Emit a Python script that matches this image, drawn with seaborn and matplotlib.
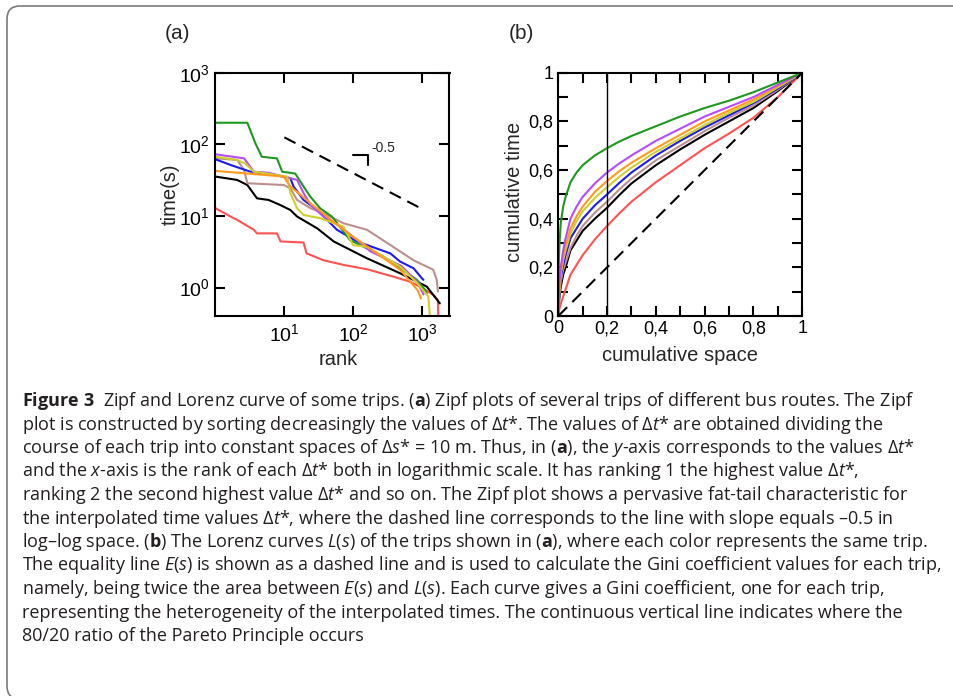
import matplotlib
matplotlib.use('Agg')
import matplotlib.pyplot as plt
import matplotlib.patches as mpatches
from matplotlib.transforms import IdentityTransform
from matplotlib.ticker import FixedLocator, FixedFormatter, NullLocator, MultipleLocator
import seaborn as sns

# ---- panel (a): Zipf plots, rank vs time(s) ----
green_rank = [1, 2.9, 3.8, 4.7, 7.8, 9.3, 14.4, 19, 23.8, 33, 49, 90, 275, 480, 840, 1100, 1170]
green_time = [200, 200, 103, 67, 63.6, 41.5, 39, 25.7, 18.6, 12.8, 9.8, 4.6, 2.7, 1.86, 1.28, 0.93, 0.83]

purple_rank = [1, 2.6, 3.6, 5.9, 15.3, 19, 24, 37, 65, 113, 177, 500, 850, 1000, 1050]
purple_time = [72.5, 63.6, 41.5, 40, 31.8, 20.8, 14.3, 9.8, 7.1, 4.6, 3.2, 2.0, 1.2, 0.88, 0.8]

blue_rank = [1, 1.65, 3.2, 6.3, 12.2, 13.6, 19, 30, 58, 113, 345, 480, 750, 990, 1045]
blue_time = [61.7, 51.5, 41.5, 38.5, 33.6, 25.7, 16.7, 12.1, 6.4, 4.4, 3.0, 2.3, 1.86, 1.35, 1.28]

yellow_rank = [1, 2.06, 2.7, 3.6, 11, 12.2, 15.3, 19, 33, 72, 100, 158, 480, 850, 1230, 1310]
yellow_time = [67, 60.5, 54, 41.5, 35.4, 20.8, 12.8, 10.3, 9.3, 7.1, 3.9, 3.7, 1.96, 1.15, 0.75, 0.35]

orange_rank = [1, 2.6, 5.0, 9.8, 12.2, 16, 24, 41.5, 47, 92, 220, 480, 850, 940, 960]
orange_time = [42.5, 39.4, 37.4, 35.4, 25.7, 20.8, 15, 9.8, 8.8, 5.4, 3.0, 1.77, 0.93, 0.75, 0.7]

brown_rank = [1, 2.06, 2.6, 2.9, 9.8, 12.2, 15.3, 24, 37, 72, 158, 380, 750, 1450, 1630, 1700]
brown_time = [63.6, 60.5, 44, 28.6, 27, 24.3, 16.7, 12.8, 10.9, 7.9, 6.4, 3.7, 2.4, 1.77, 1.28, 0.88]

black_rank = [1, 2.06, 2.9, 4.0, 5.9, 8.7, 12.2, 15.3, 30, 52, 158, 480, 1170, 1450, 1810]
black_time = [35.4, 31.8, 27, 17.6, 16.7, 14.2, 12.1, 9.8, 6.7, 4.4, 2.56, 1.58, 1.03, 0.79, 0.6]

red_rank = [1, 1.65, 2.06, 3.6, 4.0, 7.8, 8.8, 19, 21, 37, 72, 158, 380, 660, 930, 1450, 1700, 1720]
red_time = [12.8, 9.8, 8.8, 6.4, 5.7, 5.7, 4.4, 4.25, 3.0, 2.4, 2.07, 1.8, 1.42, 1.21, 1.03, 0.79, 0.67, 0.35]

slope_rank = [10, 1000]
slope_time = [125, 12.5]
slope_mark_rank = [100, 162, 162]
slope_mark_time = [71, 71, 51.5]

zipf_ticks_x = [10, 100, 1000]
zipf_labels_x = ['1', '2', '3']
zipf_ticks_y = [1, 10, 100, 1000]
zipf_labels_y = ['0', '1', '2', '3']

# ---- panel (b): Lorenz curves ----
lorenz_x = [0, 0.002, 0.005, 0.01, 0.02, 0.03, 0.05, 0.075, 0.1, 0.15, 0.2, 0.25, 0.3, 0.4, 0.5, 0.6, 0.7, 0.8, 0.9, 1.0]
green_lorenz = [0, .22, .30, .38, .45, .49, .55, .59, .62, .66, .69, .717, .74, .78, .82, .855, .885, .92, .96, 1]
purple_lorenz = [0, .10, .15, .20, .27, .32, .40, .45, .49, .545, .59, .627, .66, .72, .77, .82, .86, .90, .95, 1]
orange_lorenz = [0, .08, .12, .18, .24, .29, .36, .41, .45, .51, .555, .595, .63, .69, .745, .80, .845, .89, .945, 1]
yellow_lorenz = [0, .07, .11, .17, .23, .27, .34, .39, .43, .485, .53, .572, .61, .675, .73, .785, .835, .88, .94, 1]
blue_lorenz = [0, .07, .11, .16, .21, .25, .32, .36, .40, .455, .50, .547, .59, .66, .72, .775, .825, .875, .935, 1]
brown_lorenz = [0, .06, .10, .14, .19, .22, .28, .33, .37, .425, .47, .52, .565, .64, .70, .76, .815, .865, .93, 1]
black_lorenz = [0, .05, .08, .12, .17, .20, .27, .31, .35, .40, .445, .497, .545, .62, .685, .745, .80, .855, .925, 1]
red_lorenz = [0, .015, .03, .05, .08, .11, .17, .21, .25, .315, .37, .422, .47, .55, .62, .69, .75, .815, .90, 1]

equality_x = [0, 1]
equality_y = [0, 1]
pareto_x = 0.2
lorenz_ticks = [0, 0.2, 0.4, 0.6, 0.8, 1.0]
lorenz_labels = ['0', '0,2', '0,4', '0,6', '0,8', '1']

colors = {
    'green': '#1e981e', 'purple': '#b84cf8', 'blue': '#1c1cf0', 'yellow': '#cfcf2a',
    'orange': '#ff9a1c', 'brown': '#bc8f8f', 'black': '#000000', 'red': '#ff5252',
}

caption_lines = [
    r"$\mathbf{Figure\ 3}$  Zipf and Lorenz curve of some trips. ($\mathbf{a}$) Zipf plots of several trips of different bus routes. The Zipf",
    r"plot is constructed by sorting decreasingly the values of $\Delta\mathit{t}$*. The values of $\Delta\mathit{t}$* are obtained dividing the",
    r"course of each trip into constant spaces of $\Delta\mathit{s}$* = 10 m. Thus, in ($\mathbf{a}$), the $\mathit{y}$-axis corresponds to the values $\Delta\mathit{t}$*",
    r"and the $\mathit{x}$-axis is the rank of each $\Delta\mathit{t}$* both in logarithmic scale. It has ranking 1 the highest value $\Delta\mathit{t}$*,",
    r"ranking 2 the second highest value $\Delta\mathit{t}$* and so on. The Zipf plot shows a pervasive fat-tail characteristic for",
    r"the interpolated time values $\Delta\mathit{t}$*, where the dashed line corresponds to the line with slope equals –0.5 in",
    r"log–log space. ($\mathbf{b}$) The Lorenz curves $\mathit{L(s)}$ of the trips shown in ($\mathbf{a}$), where each color represents the same trip.",
    r"The equality line $\mathit{E(s)}$ is shown as a dashed line and is used to calculate the Gini coefficient values for each trip,",
    r"namely, being twice the area between $\mathit{E(s)}$ and $\mathit{L(s)}$. Each curve gives a Gini coefficient, one for each trip,",
    r"representing the heterogeneity of the interpolated times. The continuous vertical line indicates where the",
    r"80/20 ratio of the Pareto Principle occurs",
]

sns.set_theme(style='ticks')
plt.rcParams['font.family'] = ['Liberation Sans', 'DejaVu Sans']
plt.rcParams['mathtext.fontset'] = 'custom'
plt.rcParams['mathtext.rm'] = 'Open Sans'
plt.rcParams['mathtext.it'] = 'Open Sans:italic'
plt.rcParams['mathtext.bf'] = 'Open Sans:bold'
plt.rcParams['axes.edgecolor'] = 'black'
plt.rcParams['axes.linewidth'] = 1.5

W, H = 954, 696
fig = plt.figure(figsize=(W / 100, H / 100), dpi=100)
fig.patch.set_facecolor('white')

ax_a = fig.add_axes([215.5 / W, 1 - 316 / H, 234 / W, 243.3 / H])
ax_b = fig.add_axes([558.3 / W, 1 - 316 / H, 244 / W, 243.3 / H])

# Zipf
zipf_series = [
    (red_rank, red_time, 'red'), (black_rank, black_time, 'black'),
    (brown_rank, brown_time, 'brown'), (blue_rank, blue_time, 'blue'),
    (green_rank, green_time, 'green'), (purple_rank, purple_time, 'purple'),
    (yellow_rank, yellow_time, 'yellow'), (orange_rank, orange_time, 'orange'),
]
for rank, t, c in zipf_series:
    sns.lineplot(x=rank, y=t, ax=ax_a, color=colors[c], lw=1.5, estimator=None, sort=False)
ax_a.plot(slope_rank, slope_time, color='black', lw=1.5, dashes=(6, 3.5))
ax_a.plot(slope_mark_rank, slope_mark_time, color='black', lw=1.5)
ax_a.text(185, 88, '-0.5', fontsize=10, ha='left', va='center')

ax_a.set_xscale('log')
ax_a.set_yscale('log')
ax_a.set_xlim(1, 2500)
ax_a.set_ylim(0.4, 1000)
ax_a.xaxis.set_major_locator(FixedLocator(zipf_ticks_x))
ax_a.xaxis.set_major_formatter(FixedFormatter([r'$\mathregular{10^{%s}}$' % s for s in zipf_labels_x]))
ax_a.yaxis.set_major_locator(FixedLocator(zipf_ticks_y))
ax_a.yaxis.set_major_formatter(FixedFormatter([r'$\mathregular{10^{%s}}$' % s for s in zipf_labels_y]))
ax_a.xaxis.set_minor_locator(NullLocator())
ax_a.yaxis.set_minor_locator(NullLocator())
ax_a.set_xlabel('rank', fontsize=14.5)
ax_a.set_ylabel('time(s)', fontsize=14.5)
ax_a.xaxis.set_label_coords(0.523, -0.14)
ax_a.yaxis.set_label_coords(-0.152, 0.5)
ax_a.tick_params(which='both', direction='in', top=True, right=True, length=7, width=1.5,
                 labelsize=14, colors='black')
ax_a.tick_params(axis='x', pad=5)
ax_a.tick_params(axis='y', pad=4)

# Lorenz
lorenz_series = [
    (red_lorenz, 'red'), (black_lorenz, 'black'), (brown_lorenz, 'brown'), (blue_lorenz, 'blue'),
    (yellow_lorenz, 'yellow'), (orange_lorenz, 'orange'), (purple_lorenz, 'purple'), (green_lorenz, 'green'),
]
for y, c in lorenz_series:
    sns.lineplot(x=lorenz_x, y=y, ax=ax_b, color=colors[c], lw=1.5, estimator=None, sort=False)
ax_b.plot(equality_x, equality_y, color='black', lw=1.5, dashes=(6, 3.5))
ax_b.axvline(pareto_x, color='black', lw=1.0)

ax_b.set_xlim(0, 1)
ax_b.set_ylim(0, 1)
ax_b.xaxis.set_major_locator(FixedLocator(lorenz_ticks))
ax_b.xaxis.set_major_formatter(FixedFormatter(lorenz_labels))
ax_b.yaxis.set_major_locator(FixedLocator(lorenz_ticks))
ax_b.yaxis.set_major_formatter(FixedFormatter(lorenz_labels))
ax_b.xaxis.set_minor_locator(MultipleLocator(0.1))
ax_b.yaxis.set_minor_locator(MultipleLocator(0.1))
ax_b.set_xlabel('cumulative space', fontsize=14.5)
ax_b.set_ylabel('cumulative time', fontsize=14.5)
ax_b.xaxis.set_label_coords(0.5, -0.125)
ax_b.yaxis.set_label_coords(-0.14, 0.511)
ax_b.tick_params(which='both', direction='in', top=True, right=True, length=7, width=1.5,
                 labelsize=13, colors='black')
ax_b.tick_params(axis='x', pad=3)
ax_b.tick_params(axis='y', pad=3.5)

for ax in (ax_a, ax_b):
    ax.grid(False)
    for sp in ax.spines.values():
        sp.set_color('black')
        sp.set_linewidth(1.5)

# panel letters
fig.text(177.5 / W, 1 - 33.5 / H, '(a)', fontsize=15, ha='center', va='center')
fig.text(521 / W, 1 - 33.5 / H, '(b)', fontsize=15, ha='center', va='center')

# caption
for i, line in enumerate(caption_lines):
    fig.text(22 / W, 1 - (406 + 23.5 * i) / H, line, fontsize=13.0, ha='left', va='baseline',
             family=['Open Sans', 'DejaVu Sans'], color='#231f20')

# rounded frame around the figure
frame = mpatches.FancyBboxPatch((7, -3), 990, 693, boxstyle='round,pad=0,rounding_size=13',
                                fill=False, ec='#7a7a7a', lw=1.2, transform=IdentityTransform())
fig.add_artist(frame)

fig.savefig('out.png', dpi=100)
